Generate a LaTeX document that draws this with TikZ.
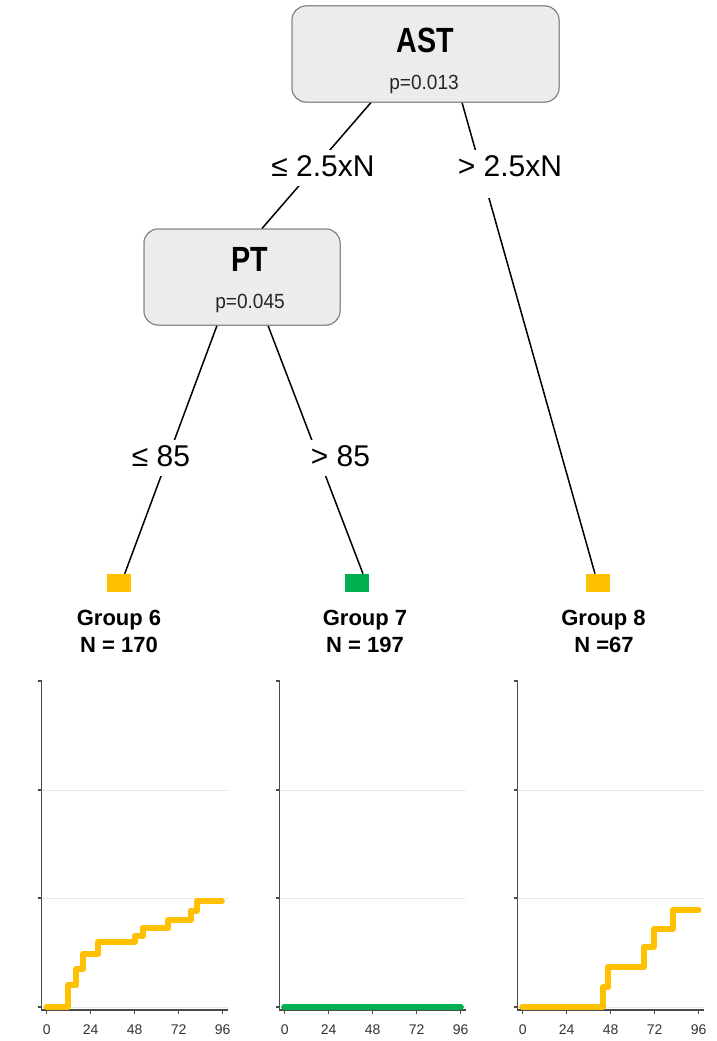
\documentclass[tikz,border=0pt]{standalone}
\usepackage{fontspec}
\setmainfont{Liberation Sans}
\newfontfamily\condfont[FakeStretch=0.82]{Liberation Sans}
\newfontfamily\narrowfont[FakeStretch=0.93]{Liberation Sans}
\definecolor{gold}{HTML}{FFC000}
\definecolor{grn}{HTML}{00B050}
\definecolor{boxfill}{HTML}{ECECEC}
\definecolor{boxline}{HTML}{7F7F7F}
\definecolor{gridc}{HTML}{E4ECEF}
\definecolor{axisc}{HTML}{4A4A4A}
\tikzset{
  splitbox/.style={draw=boxline, fill=boxfill, line width=1pt, rounded corners=14pt, inner sep=0pt},
  vartitle/.style={anchor=base, inner sep=0pt, font=\condfont\bfseries\fontsize{35}{40}\selectfont},
  pvalue/.style={anchor=base, inner sep=0pt, font=\narrowfont\fontsize{20.5}{24}\selectfont, text=black!85},
  edgelabel/.style={anchor=base, fill=white, inner xsep=2pt, inner ysep=6pt, text depth=3pt, font=\fontsize{30}{36}\selectfont},
  branch/.style={draw=black, line width=1.5pt},
  leaf/.style={minimum width=24pt, minimum height=18pt, inner sep=0pt},
  grouplabel/.style={anchor=base, inner sep=0pt, font=\bfseries\fontsize{22}{26}\selectfont},
  axisline/.style={draw=axisc, line width=1.2pt},
  gridline/.style={draw=gridc, line width=0.8pt},
  ticklabel/.style={anchor=base, inner sep=0pt, font=\fontsize{14}{16}\selectfont, text=black!80},
  curve/.style={line width=6.3pt, line cap=round, line join=round}
}
\begin{document}
\begin{tikzpicture}[x=1pt,y=-1pt]
\useasboundingbox (0,0) rectangle (717,1041);

% split boxes
\node[splitbox, minimum width=267pt, minimum height=96pt] (ast) at (425.5,54) {};
\node[splitbox, minimum width=196pt, minimum height=96pt] (pt) at (242,277) {};

% leaves
\node[leaf, fill=gold] (sq6) at (118.7,583) {};
\node[leaf, fill=grn]  (sq7) at (357,583) {};
\node[leaf, fill=gold] (sq8) at (597.5,583) {};

% connector end points
\coordinate (astL) at ([xshift=-54.5pt]ast.south);
\coordinate (astR) at ([xshift=36.5pt]ast.south);
\coordinate (ptT)  at ([xshift=20pt]pt.north);
\coordinate (ptL)  at ([xshift=-25pt]pt.south);
\coordinate (ptR)  at ([xshift=26pt]pt.south);
\coordinate (sq6T) at ([xshift=6pt]sq6.north);
\coordinate (sq7T) at ([xshift=6pt]sq7.north);
\coordinate (sq8T) at ([xshift=-2.5pt]sq8.north);

% connectors
\draw[branch] (astL) -- (ptT);
\draw[branch] (astR) -- (sq8T);
\draw[branch] (ptL) -- (sq6T);
\draw[branch] (ptR) -- (sq7T);

% edge labels
\node[edgelabel] (e1) at (323,176.7) {≤ 2.5xN};
\node[edgelabel, text depth=15pt] (e2) at (510,176.7) {> 2.5xN};
\node[edgelabel] (e3) at (161,466.7) {≤ 85};
\node[edgelabel] (e4) at (340.5,466.7) {> 85};

% redraw boxes on top
\node[splitbox, minimum width=267pt, minimum height=96pt] at (ast) {};
\node[splitbox, minimum width=196pt, minimum height=96pt] at (pt) {};
\node[vartitle] (astname) at (425.5,52.7) {AST};
\node[pvalue] (astp) at (424,89.3) {p=0.013};
\node[vartitle] (ptname) at (250,271.7) {PT};
\node[pvalue] (ptp) at (250,308.3) {p=0.045};

% group labels
\node[grouplabel] (g6) at (119,625) {Group 6};
\node[grouplabel] (n6) at (119,652) {N = 170};
\node[grouplabel] (g7) at (365,625) {Group 7};
\node[grouplabel] (n7) at (365,652) {N = 197};
\node[grouplabel] (g8) at (603.5,625) {Group 8};
\node[grouplabel] (n8) at (604,652) {N =67};

% plots
\foreach \px/\pid in {41.7/1,279.7/2,517.7/3}{
  \begin{scope}[xshift=\px pt]
    \foreach \gy in {790,898,1007} \draw[gridline] (0,\gy) -- (186,\gy);
    \draw[axisline] (0,681) -- (0,1010) -- (186,1010);
    \foreach \ty in {681,790,898,1007} \draw[axisline] (-4,\ty) -- (0,\ty);
    \foreach \tx/\tl in {5/0,49/24,93/48,137/72,181/96}{
      \draw[axisline] (\tx,1010) -- (\tx,1014);
      \node[ticklabel] (t\pid-\tl) at (\tx,1034) {\tl};
    }
  \end{scope}
}
\begin{scope}[xshift=41.7pt]
  \draw[curve, gold] (5,1006.7) -| (26.6,985) -| (34.3,969.3) -| (41.6,954) -| (56.6,941.7)
     -| (93.3,936) -| (101,927.7) -| (126.6,920) -| (149,910.7) -| (155,901) -- (180,901);
\end{scope}
\begin{scope}[xshift=279.7pt]
  \draw[curve, grn] (4.6,1007) -- (181,1007);
\end{scope}
\begin{scope}[xshift=517.7pt]
  \draw[curve, gold] (4.6,1006.7) -| (85,987.3) -| (90.6,966.7) -| (126.6,946.7)
     -| (136.3,929.3) -| (155,910) -- (180.6,910);
\end{scope}
\end{tikzpicture}
\end{document}
